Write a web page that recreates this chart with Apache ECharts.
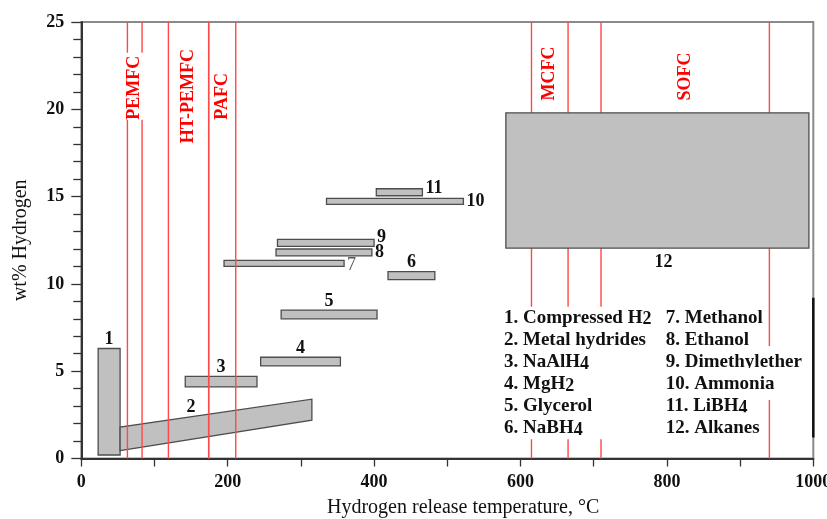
<!DOCTYPE html>
<html>
<head>
<meta charset="utf-8">
<script src="https://cdn.jsdelivr.net/npm/echarts@6/dist/echarts.min.js"></script>
<style>
  html, body { margin: 0; padding: 0; background: #fff; }
  #chart { width: 827px; height: 519px; }
</style>
</head>
<body>
<div id="chart"></div>
<script>
// Hydrogen storage media: release temperature (°C) against hydrogen content (wt%)
const storageIds = ['1', '2', '3', '4', '5', '6', '7', '8', '9', '10', '11', '12'];
const storageNames = ['Compressed H2', 'Metal hydrides', 'NaAlH4', 'MgH2', 'Glycerol', 'NaBH4',
  'Methanol', 'Ethanol', 'Dimethylether', 'Ammonia', 'LiBH4', 'Alkanes'];

// temperature window of each medium
const tempStart = [23, 53, 142, 245, 273, 419, 195, 266, 268, 335, 403, 580];
const tempEnd   = [53, 315, 240, 354, 404, 483, 359, 397, 400, 522, 466, 994];

// hydrogen content at the low-temperature end (lower / upper bound)
const wtLowStart  = [0.2, 0.45, 4.1, 5.3, 8.0, 10.25, 11.0, 11.6, 12.15, 14.55, 15.05, 12.05];
const wtHighStart = [6.3, 1.8, 4.7, 5.8, 8.5, 10.7, 11.35, 12.0, 12.55, 14.9, 15.45, 19.8];
// hydrogen content at the high-temperature end (metal hydrides climb with temperature)
const wtLowEnd  = [0.2, 2.2, 4.1, 5.3, 8.0, 10.25, 11.0, 11.6, 12.15, 14.55, 15.05, 12.05];
const wtHighEnd = [6.3, 3.4, 4.7, 5.8, 8.5, 10.7, 11.35, 12.0, 12.55, 14.9, 15.45, 19.8];

// fuel cell operating temperature windows
const fuelCells    = ['PEMFC', 'HT-PEMFC', 'PAFC', 'MCFC', 'SOFC'];
const cellTempLow  = [63, 119, 174, 615, 710];
const cellTempHigh = [83, 174, 211, 665, 940];
const cellLabelWt  = [19.4, 18.05, 19.4, 20.5, 20.5];

// right-edge bracket
const edgeBracket = [[1000, 9.2], [1000, 1.2]];

// axis ranges
const xMin = 0, xMax = 1000, xStep = 200;
const yMin = 0, yMax = 25, yStep = 5;

// where each number tag sits relative to its box
const tagSide  = ['top', 'top', 'top', 'top', 'top', 'top', 'right', 'right', 'right', 'right', 'right', 'bottom'];
const tagAlong = [0.5, 0.37, 0.5, 0.5, 0.5, 0.5, 0.5, 0.5, 0.5, 0.5, 0.5, 0.52];
const tagShift = [0, 0, 0, 0, 0, 0, 2, 0, -6, 0, -4, 0];
const mutedTags = ['7'];
// the alkanes block sits in front of the fuel-cell lines
const frontBoxes = ['12'];

const SERIF = '"Liberation Serif", "Times New Roman", serif';

function boxRenderer(wantFront) {
  return function (params, api) {
    const i = params.dataIndex;
    const id = storageIds[i];
    if ((frontBoxes.indexOf(id) >= 0) !== wantFront) return null;
    const p0 = api.coord([api.value(0), api.value(2)]);
    const p1 = api.coord([api.value(1), api.value(4)]);
    const p2 = api.coord([api.value(1), api.value(5)]);
    const p3 = api.coord([api.value(0), api.value(3)]);
    let tx, ty, align = 'center';
    const a = tagAlong[i];
    if (tagSide[i] === 'top') {
      tx = p3[0] + a * (p2[0] - p3[0]);
      ty = p3[1] + a * (p2[1] - p3[1]) - 9;
    } else if (tagSide[i] === 'right') {
      tx = Math.max(p1[0], p2[0]) + 3;
      ty = (p1[1] + p2[1]) / 2 + tagShift[i];
      align = 'left';
    } else {
      tx = p0[0] + a * (p1[0] - p0[0]);
      ty = p0[1] + a * (p1[1] - p0[1]) + 14;
    }
    const muted = mutedTags.indexOf(id) >= 0;
    return {
      type: 'group',
      children: [
        {
          type: 'polygon',
          shape: { points: [p0, p1, p2, p3] },
          style: { fill: '#c0c0c0', stroke: '#4d4d4d', lineWidth: 1.3 }
        },
        {
          type: 'text',
          x: tx, y: ty,
          style: {
            text: id,
            fill: muted ? '#555' : '#111',
            fontFamily: SERIF,
            fontSize: 18,
            fontWeight: muted ? 'normal' : 'bold',
            align: align,
            verticalAlign: 'middle'
          }
        }
      ]
    };
  };
}

function cellRenderer(params, api) {
  const i = params.dataIndex;
  const lo = api.value(0), hi = api.value(1);
  const loBottom = api.coord([lo, yMin]), loTop = api.coord([lo, yMax]);
  const hiBottom = api.coord([hi, yMin]), hiTop = api.coord([hi, yMax]);
  const anchor = api.coord([(lo + hi) / 2, api.value(2)]);
  const lineStyle = { stroke: '#ff4848', lineWidth: 1.4 };
  return {
    type: 'group',
    children: [
      { type: 'line', shape: { x1: loBottom[0], y1: loBottom[1], x2: loTop[0], y2: loTop[1] }, style: lineStyle },
      { type: 'line', shape: { x1: hiBottom[0], y1: hiBottom[1], x2: hiTop[0], y2: hiTop[1] }, style: lineStyle },
      {
        type: 'text',
        x: (loBottom[0] + hiBottom[0]) / 2,
        y: anchor[1],
        rotation: Math.PI / 2,
        style: {
          text: fuelCells[i],
          fill: '#ff0000',
          fontFamily: SERIF,
          fontSize: 18,
          fontWeight: 'bold',
          align: 'left',
          verticalAlign: 'middle',
          lineHeight: 20,
          backgroundColor: '#fff',
          padding: [0, 3, 0, 0]
        }
      }
    ]
  };
}

const boxData = storageIds.map((id, i) =>
  [tempStart[i], tempEnd[i], wtLowStart[i], wtHighStart[i], wtLowEnd[i], wtHighEnd[i]]);
const cellData = fuelCells.map((n, i) => [cellTempLow[i], cellTempHigh[i], cellLabelWt[i]]);

// legend text: numbered names, digits in formulas set as subscripts
function legendLine(i) {
  return (i + 1) + '. ' + storageNames[i].replace(/([A-Za-z])(\d)/g, '$1{s|$2}');
}
const legendFont = { fontFamily: SERIF, fontSize: 19, fontWeight: 'bold', fill: '#111' };
const legendRich = {
  s: { fontFamily: SERIF, fontSize: 18, fontWeight: 'bold', fill: '#111', verticalAlign: 'bottom', lineHeight: 22 }
};
const legendRowTop = 306.7, legendRowGap = 22.1;

const graphics = [];
graphics.push({
  type: 'text', left: 504, top: legendRowTop, z: 100,
  style: Object.assign({
    text: storageIds.slice(0, 6).map((id, i) => legendLine(i)).join('\n'),
    lineHeight: 22.1,
    backgroundColor: '#fff',
    rich: legendRich
  }, legendFont)
});
for (let i = 6; i < 12; i++) {
  graphics.push({
    type: 'text', left: 663.7, top: legendRowTop + (i - 6) * legendRowGap - 5, z: 100,
    style: Object.assign({
      text: legendLine(i),
      lineHeight: 22.1,
      backgroundColor: '#fff',
      padding: [5, 2],
      rich: legendRich
    }, legendFont)
  });
}
graphics.push({
  type: 'text', left: 327, top: 498, z: 100,
  style: { text: 'Hydrogen release temperature, °C', fontFamily: SERIF, fontSize: 20, fill: '#111' }
});

const chart = echarts.init(document.getElementById('chart'), null, { renderer: 'canvas' });
chart.setOption({
  animation: false,
  backgroundColor: '#fff',
  grid: {
    left: 81.3, right: 13.7, top: 22, bottom: 60.5,
    containLabel: false, outerBoundsMode: 'none',
    show: true, borderColor: '#8a8a8a', borderWidth: 2, backgroundColor: 'transparent'
  },
  xAxis: {
    type: 'value', min: xMin, max: xMax, interval: xStep,
    axisLine: { lineStyle: { color: '#333', width: 2 } },
    axisTick: { inside: false, length: 8, lineStyle: { color: '#333', width: 1.3 } },
    minorTick: { show: true, splitNumber: 2, length: 8, lineStyle: { color: '#333', width: 1.3 } },
    axisLabel: {
      margin: 15, color: '#111', fontFamily: SERIF, fontSize: 18, fontWeight: 'bold',
      formatter: v => String(v)
    },
    splitLine: { show: false }
  },
  yAxis: {
    type: 'value', min: yMin, max: yMax, interval: yStep,
    name: 'wt% Hydrogen', nameLocation: 'middle', nameGap: 51,
    nameTextStyle: { color: '#111', fontFamily: SERIF, fontSize: 20 },
    axisLine: { lineStyle: { color: '#333', width: 2 } },
    axisTick: { inside: false, length: 10, lineStyle: { color: '#333', width: 1.3 } },
    minorTick: { show: true, splitNumber: 5, length: 8, lineStyle: { color: '#333', width: 1.3 } },
    axisLabel: {
      margin: 17, color: '#111', fontFamily: SERIF, fontSize: 18, fontWeight: 'bold',
      formatter: v => String(v)
    },
    splitLine: { show: false }
  },
  series: [
    {
      name: 'Storage media', type: 'custom', z: 2,
      renderItem: boxRenderer(false), data: boxData,
      encode: { x: [0, 1], y: [2, 3, 4, 5] }
    },
    {
      name: 'Fuel cells', type: 'custom', z: 3,
      renderItem: cellRenderer, data: cellData,
      encode: { x: [0, 1], y: 2 }
    },
    {
      name: 'Alkanes block', type: 'custom', z: 4,
      renderItem: boxRenderer(true), data: boxData,
      encode: { x: [0, 1], y: [2, 3, 4, 5] }
    },
    {
      name: 'Edge bracket', type: 'line', z: 5, data: edgeBracket,
      symbol: 'none', lineStyle: { color: '#111', width: 2.5 }
    }
  ],
  graphic: graphics
});
</script>
</body>
</html>
